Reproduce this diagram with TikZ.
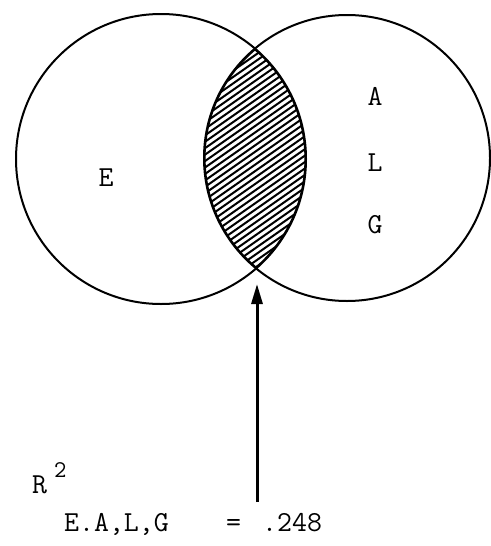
\documentclass[tikz,border=0pt]{standalone}
\usepackage{fontspec}
\usetikzlibrary{arrows.meta}
\begin{document}
\begin{tikzpicture}[x=1pt,y=-1pt,
  setcircle/.style={circle, draw, inner sep=0pt, line width=2pt},
  lbl/.style={font=\ttfamily\fontsize{29}{34}\selectfont, inner sep=0pt},
  hatchline/.style={line width=2pt},
  lensedge/.style={line width=3.2pt}]
\useasboundingbox (0,0) rectangle (490,546);
\node[setcircle, minimum size=290pt] (E) at (161,159) {};
\node[setcircle, minimum size=286pt] (ALG) at (347,158) {};
% hatching
\begin{scope}
  \clip (161,159) circle (145pt);
  \clip (347,158) circle (143pt);
  \foreach \k in {-30,...,30} {
    \draw[hatchline] ({254+\k*9.2-200*cos(35)},{159+200*sin(35)}) -- ({254+\k*9.2+200*cos(35)},{159-200*sin(35)});
  }
  \draw[lensedge] (161,159) circle (145pt);
  \draw[lensedge] (347,158) circle (143pt);
\end{scope}
\node[lbl] (lE) at (106,178) {E};
\node[lbl] (lA) at (375,96) {A};
\node[lbl] (lL) at (375,163) {L};
\node[lbl] (lG) at (375,225) {G};
% formula
\node[lbl, anchor=base west] (R) at (32,493) {R};
\node[lbl, anchor=base west, font=\ttfamily\fontsize{24}{28}\selectfont] (two) at (54,477) {2};
\node[lbl, anchor=base west] (sub) at (64,531) {E.A,L,G};
\node[lbl, anchor=base west] (eq) at (226,531) {=};
\node[lbl, anchor=base west] (val) at (262,531) {.248};
\coordinate (tip) at (257,284);
\coordinate (tail) at (257,502);
\draw[-{Triangle[length=20pt,width=11pt]}, line width=3pt] (tail) -- (tip);
\end{tikzpicture}
\end{document}
